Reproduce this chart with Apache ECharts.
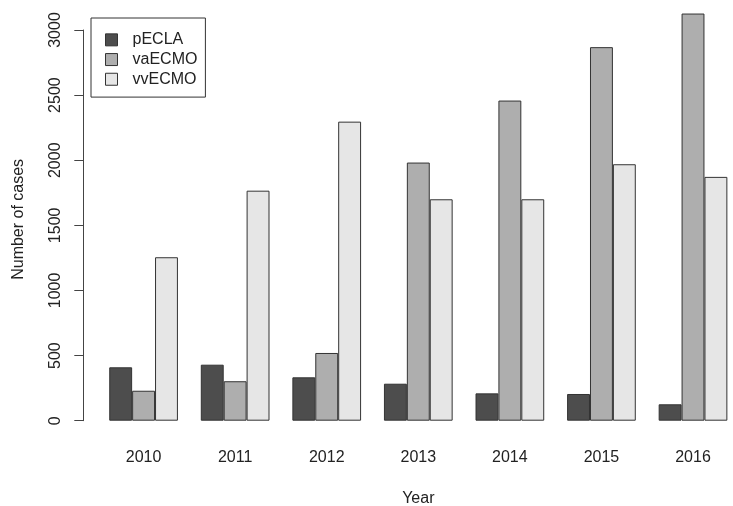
<!DOCTYPE html>
<html>
<head>
<meta charset="utf-8">
<script src="https://cdn.jsdelivr.net/npm/echarts@6/dist/echarts.min.js"></script>
<style>
  html, body { margin: 0; padding: 0; background: #fff; }
  #chart { width: 733px; height: 506px; }
</style>
</head>
<body>
<div id="chart"></div>
<script>
const years = ["2010", "2011", "2012", "2013", "2014", "2015", "2016"];
const pECLA = [410, 430, 333, 284, 210, 205, 126];
const vaECMO = [230, 303, 520, 1982, 2458, 2868, 3126];
const vvECMO = [1255, 1766, 2296, 1700, 1700, 1969, 1872];
const yTicks = [0, 500, 1000, 1500, 2000, 2500, 3000];

const font = "Liberation Sans, Arial, sans-serif";
const colors = ["#4D4D4D", "#AEAEAE", "#E6E6E6"];

const chart = echarts.init(document.getElementById("chart"), null, { renderer: "canvas" });

const barStyle = (c) => ({ color: c, borderColor: "#333", borderWidth: 1 });

const option = {
  animation: false,
  backgroundColor: "#fff",
  color: colors,
  textStyle: { fontFamily: font },
  grid: [
    // bars (plot region runs past the right edge, as in the original)
    { left: 97.8, width: 641, top: 0, bottom: 85.3, containLabel: false, outerBoundsMode: "none" },
    // y axis drawn only between first and last tick, like R
    { left: 83.3, width: 1, top: 30, bottom: 85.3, containLabel: false, outerBoundsMode: "none" },
  ],
  legend: {
    orient: "vertical",
    left: 91,
    top: 18,
    data: ["pECLA", "vaECMO", "vvECMO"],
    icon: "rect",
    itemWidth: 12,
    itemHeight: 12,
    itemGap: 0,
    padding: [12, 8, 8, 14],
    borderColor: "#333",
    borderWidth: 1,
    borderRadius: 0,
    backgroundColor: "#fff",
    itemStyle: { borderColor: "#333", borderWidth: 1 },
    textStyle: {
      fontFamily: font,
      fontSize: 16,
      color: "#222",
      lineHeight: 19.7,
      padding: [0, 0, 0, 10],
    },
  },
  xAxis: [
    {
      type: "category",
      gridIndex: 0,
      data: years,
      name: "Year",
      nameLocation: "middle",
      nameGap: 70,
      nameTextStyle: { fontFamily: font, fontSize: 16, color: "#222" },
      axisLine: { show: false },
      axisTick: { show: false },
      axisLabel: { fontFamily: font, fontSize: 16, color: "#222", margin: 29 },
    },
    {
      type: "value",
      gridIndex: 1,
      show: false,
    },
  ],
  yAxis: [
    {
      type: "value",
      gridIndex: 0,
      min: 0,
      max: 3230,
      show: false,
    },
    {
      type: "value",
      gridIndex: 1,
      min: yTicks[0],
      max: yTicks[yTicks.length - 1],
      interval: 500,
      name: "Number of cases",
      nameLocation: "middle",
      nameRotate: 90,
      nameGap: 57,
      nameTextStyle: { fontFamily: font, fontSize: 16, color: "#222", padding: [0, 0, 0, 12] },
      splitLine: { show: false },
      axisLine: { show: true, lineStyle: { color: "#444", width: 1 } },
      axisTick: { show: true, length: 9, lineStyle: { color: "#444", width: 1 } },
      axisLabel: {
        fontFamily: font, fontSize: 16, color: "#222", rotate: 90, margin: 20,
        formatter: (v) => String(v),
      },
    },
  ],
  series: [
    { name: "pECLA", type: "bar", xAxisIndex: 0, yAxisIndex: 0, data: pECLA, barWidth: 22.9, barGap: "0%", itemStyle: barStyle(colors[0]) },
    { name: "vaECMO", type: "bar", xAxisIndex: 0, yAxisIndex: 0, data: vaECMO, barWidth: 22.9, barGap: "0%", itemStyle: barStyle(colors[1]) },
    { name: "vvECMO", type: "bar", xAxisIndex: 0, yAxisIndex: 0, data: vvECMO, barWidth: 22.9, barGap: "0%", itemStyle: barStyle(colors[2]) },
  ],
};

chart.setOption(option);
</script>
</body>
</html>
